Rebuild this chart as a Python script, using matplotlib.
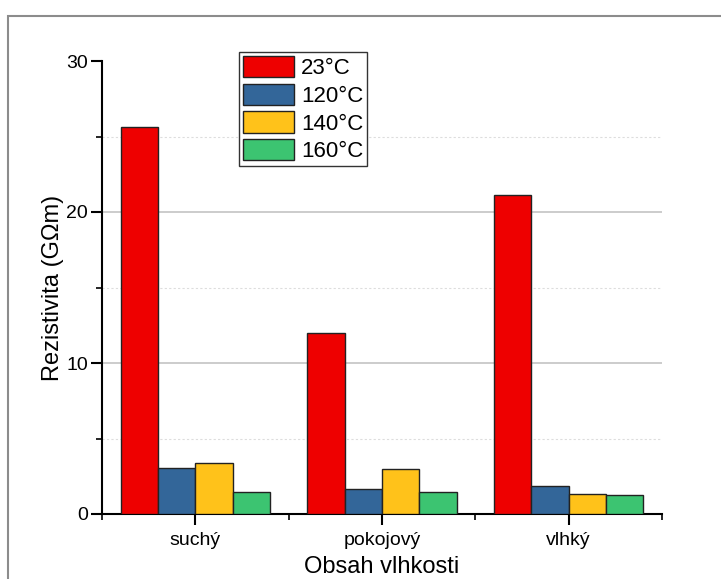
import numpy as np
import matplotlib
matplotlib.use("Agg")
import matplotlib.pyplot as plt
from matplotlib.patches import Rectangle

plt.rcParams['font.family'] = ['Liberation Sans', 'DejaVu Sans']

# data
categories = ['suchý', 'pokojový', 'vlhký']
series_labels = ['23°C', '120°C', '140°C', '160°C']
vals_23 = [25.6, 12.0, 21.1]
vals_120 = [3.07, 1.64, 1.83]
vals_140 = [3.38, 3.00, 1.30]
vals_160 = [1.48, 1.46, 1.28]
colors = ['#EE0000', '#336699', '#FFC21A', '#3CC471']

W, H = 721, 579
fig = plt.figure(figsize=(W / 100, H / 100), dpi=100)
ax = fig.add_axes([102 / W, 1 - 514 / H, 560 / W, 453 / H])

# outer frame (partially off-canvas like the original)
fig.patches.append(Rectangle((8 / W, -0.1), 1.2, 1 - 16 / H + 0.1, transform=fig.transFigure,
                             fill=False, edgecolor='#8c8c8c', linewidth=1.5, zorder=0))

x = np.arange(1, len(categories) + 1)
width = 0.2
all_vals = [vals_23, vals_120, vals_140, vals_160]
for i, (v, c, lab) in enumerate(zip(all_vals, colors, series_labels)):
    ax.bar(x + (i - 1.5) * width, v, width, color=c, edgecolor='#222222', linewidth=1.0,
           label=lab, zorder=3)

ax.set_xlim(0.5, 3.5)
ax.set_ylim(0, 30)
ax.set_yticks([0, 10, 20, 30])
ax.set_yticks([5, 15, 25], minor=True)
ax.set_xticks(x)
ax.set_xticks([0.5, 1.5, 2.5, 3.5], minor=True)
ax.set_xticklabels(categories)

ax.grid(axis='y', which='major', color='#c8c8c8', linewidth=1.3, zorder=0)
ax.grid(axis='y', which='minor', color='#dddddd', linewidth=0.8, linestyle=(0, (2, 2)), zorder=0)
ax.set_axisbelow(True)
# hide the major gridline at 30 and 0
for gl, t in zip(ax.yaxis.get_gridlines(), [0, 10, 20, 30]):
    if t in (0, 30):
        gl.set_visible(False)

for s in ['top', 'right']:
    ax.spines[s].set_visible(False)
for s in ['left', 'bottom']:
    ax.spines[s].set_linewidth(1.5)
    ax.spines[s].set_color('black')

ax.tick_params(axis='y', which='major', direction='out', length=8, width=1.5, labelsize=14, pad=2)
ax.tick_params(axis='x', which='major', direction='out', length=8, width=1.5, labelsize=14, pad=5)
ax.tick_params(axis='both', which='minor', direction='out', length=4.5, width=1.2)

ax.set_ylabel('Rezistivita (GΩm)', fontsize=17, labelpad=2)
ax.set_xlabel('Obsah vlhkosti', fontsize=17, labelpad=5)

leg = ax.legend(loc='upper left', bbox_to_anchor=(239 / W, 1 - 52 / H), bbox_transform=fig.transFigure,
                fontsize=16, handlelength=2.3, handleheight=1.1, handletextpad=0.3,
                labelspacing=0.2, borderpad=0.18, borderaxespad=0, fancybox=False,
                framealpha=1, edgecolor='#333333')
leg.get_frame().set_linewidth(1.0)

fig.savefig('out.png', dpi=100)
